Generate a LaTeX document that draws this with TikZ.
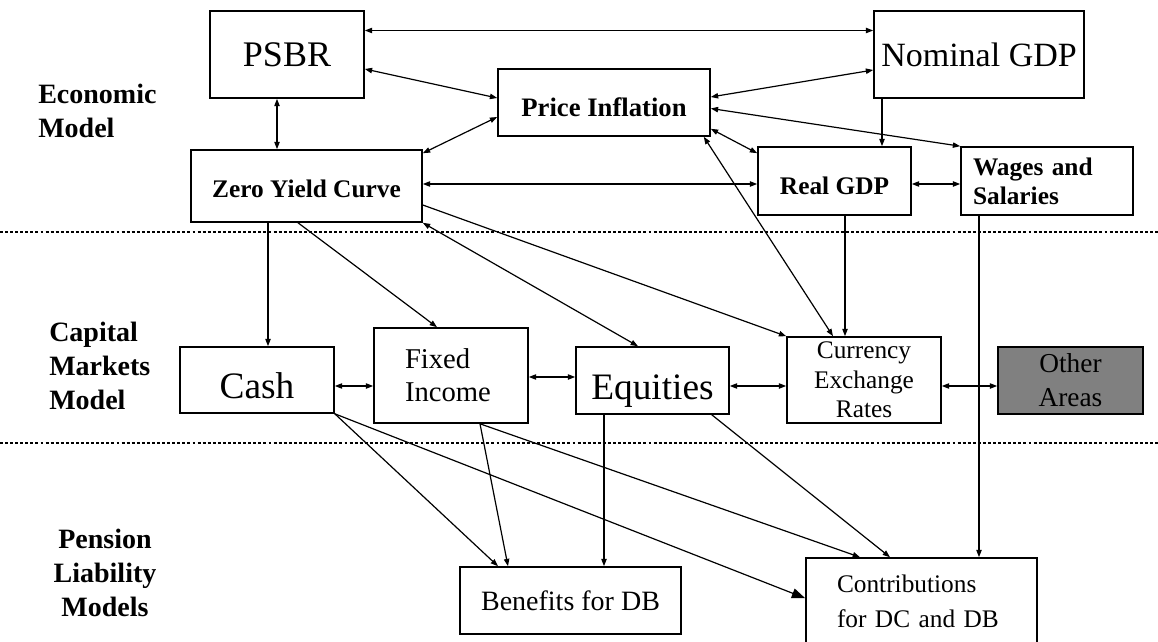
\documentclass[tikz,border=0pt]{standalone}
\usepackage{fontspec}
\setmainfont{Liberation Serif}
\usetikzlibrary{arrows.meta}
\definecolor{othergray}{RGB}{128,128,128}

\begin{document}
\begin{tikzpicture}[x=0.75pt, y=-0.75pt,
    box/.style   = {draw, line width=1.2pt, inner sep=2pt},
    conn/.style  = {line width=0.9pt, -{Triangle[length=5.5pt,width=4pt]}},
    both/.style  = {line width=0.9pt, {Triangle[length=5.5pt,width=4pt]}-{Triangle[length=5.5pt,width=4pt]}},
    bigtip/.style= {line width=0.9pt, -{Triangle[length=10pt,width=7.5pt]}},
    sep/.style   = {line width=2.2pt, dash pattern=on 2.2pt off 1.6pt},
    model/.style = {font=\bfseries\fontsize{21}{25.5}\selectfont, inner sep=0pt}]
  \useasboundingbox (0,0) rectangle (1158,642);

  % layer separators
  \draw [sep] (0,232) -- (1158,232);
  \draw [sep] (0,443) -- (1158,443);

  % model names
  \node [model, anchor=north west, align=left]  (econ)    at (38,84)   {Economic\\Model};
  \node [model, anchor=north west, align=left]  (capital) at (49,322)  {Capital\\Markets\\Model};
  \node [model, anchor=north, align=center]     (pension) at (105,529) {Pension\\Liability\\Models};

  % economic model
  \node [box, minimum width=115.5pt, minimum height=65.25pt,
         font=\fontsize{27}{32}\selectfont] (psbr) at (287,54.5) {PSBR};
  \node [box, minimum width=157.5pt, minimum height=65.25pt,
         font=\fontsize{25.5}{30}\selectfont] (nominal) at (979,54.5) {Nominal GDP};
  \node [box, minimum width=159pt, minimum height=50.25pt, text height=21.75pt, text depth=0pt,
         font=\bfseries\fontsize{20}{24}\selectfont] (infl) at (604,102.5) {Price Inflation};
  \node [box, minimum width=173.25pt, minimum height=54pt, text height=18pt, text depth=0pt,
         font=\bfseries\fontsize{19}{23}\selectfont] (zyc) at (306.5,186) {Zero Yield Curve};
  \node [box, minimum width=114.75pt, minimum height=51pt, text height=21pt, text depth=0pt,
         font=\bfseries\fontsize{19}{23}\selectfont] (realgdp) at (834.5,181) {Real GDP};
  \node [box, text width=111pt, inner xsep=9pt, minimum height=51pt, align=left,
         font=\bfseries\fontsize{19}{21.75}\selectfont] (wages) at (1047,181) {Wages and\\Salaries};

  % capital markets model
  \node [box, minimum width=115.5pt, minimum height=49.5pt, text height=27pt, text depth=0pt,
         font=\fontsize{28}{33}\selectfont] (cash) at (257,380) {Cash};
  \node [box, text width=69pt, inner xsep=23.25pt, minimum height=71.25pt, align=left,
         font=\fontsize{21.5}{24.75}\selectfont] (fixed) at (451,375.5) {Fixed\\Income};
  \node [box, minimum width=114.75pt, minimum height=50.25pt, text height=27.75pt, text depth=0pt,
         font=\fontsize{28}{33}\selectfont] (equities) at (652.5,380.5) {Equities};
  \node [box, minimum width=115.5pt, minimum height=64.5pt, align=center,
         font=\fontsize{19}{22}\selectfont] (currency) at (864,380) {Currency\\Exchange\\Rates};
  \node [box, fill=othergray, minimum width=108.75pt, minimum height=50.25pt, align=center,
         font=\fontsize{20.5}{25.5}\selectfont] (other) at (1070.5,380.5) {Other\\Areas};

  % pension liability models
  \node [box, minimum width=165.75pt, minimum height=50.25pt,
         font=\fontsize{21}{25}\selectfont] (benefits) at (570.5,600.5) {Benefits for DB};
  \node [box, text width=126.75pt, inner xsep=23.25pt, minimum height=64.5pt, align=left,
         font=\fontsize{19}{26.25}\selectfont] (contrib) at (921.5,601) {Contributions\\for DC and DB};

  % links in the economic model
  \draw [both] ([shift={(0,-24)}]psbr.east) -- ([shift={(0,-24)}]nominal.west);
  \draw [both] ([shift={(0,14.5)}]psbr.east) -- ([shift={(0,-4.5)}]infl.west);
  \draw [both] ([shift={(0,15.5)}]nominal.west) -- ([shift={(0,-5.5)}]infl.east);
  \draw [both] ([shift={(-10,0)}]psbr.south) -- ([shift={(-29.5,0)}]zyc.north);
  \draw [both] ([shift={(0,14.5)}]infl.west) -- ([shift={(0,4)}]zyc.north east);
  \draw [both] ([shift={(0,6)}]infl.east) -- (wages.north west);
  \draw [both] ([shift={(0,-8)}]infl.south east) -- ([shift={(0,7)}]realgdp.north west);
  \draw [conn] ([shift={(-97,0)}]nominal.south) -- ([shift={(47.5,0)}]realgdp.north);
  \draw [both] ([shift={(0,-2)}]zyc.east) -- ([shift={(0,3)}]realgdp.west);
  \draw [both] ([shift={(0,3)}]realgdp.east) -- ([shift={(0,3)}]wages.west);

  % economic model to capital markets
  \draw [both] ([shift={(-31,0)}]currency.north) -- ([shift={(-7,0)}]infl.south east);
  \draw [conn] ([shift={(10.5,0)}]realgdp.south) -- ([shift={(-19,0)}]currency.north);
  \draw [conn] ([shift={(0,19)}]zyc.east) -- (currency.north west);
  \draw [conn] ([shift={(-38.5,0)}]zyc.south) -- ([shift={(11,0)}]cash.north);
  \draw [conn] ([shift={(-8.5,0)}]zyc.south) -- ([shift={(-14,0)}]fixed.north);
  \draw [both] (zyc.south east) -- ([shift={(-14.5,0)}]equities.north);
  \draw [conn] ([shift={(-68,0)}]wages.south) -- ([shift={(57.5,0)}]contrib.north);

  % links in the capital markets model
  \draw [both] ([shift={(0,6)}]cash.east) -- ([shift={(0,10.5)}]fixed.west);
  \draw [both] ([shift={(0,1.5)}]fixed.east) -- ([shift={(0,-3.5)}]equities.west);
  \draw [both] ([shift={(0,5.5)}]equities.east) -- ([shift={(0,6)}]currency.west);
  \draw [both] ([shift={(0,6)}]currency.east) -- ([shift={(0,5.5)}]other.west);

  % capital markets to pension liabilities
  \draw [conn]   (cash.south east) -- ([shift={(-72.5,0)}]benefits.north);
  \draw [bigtip] (cash.south east) -- ([shift={(0,41)}]contrib.north west);
  \draw [conn] ([shift={(29,0)}]fixed.south) -- ([shift={(-62.5,0)}]benefits.north);
  \draw [conn] ([shift={(29,0)}]fixed.south) -- ([shift={(-61.5,0)}]contrib.north);
  \draw [conn] ([shift={(-48.5,0)}]equities.south) -- ([shift={(33.5,0)}]benefits.north);
  \draw [conn] ([shift={(-18,0)}]equities.south east) -- ([shift={(-31.5,0)}]contrib.north);
\end{tikzpicture}
\end{document}
